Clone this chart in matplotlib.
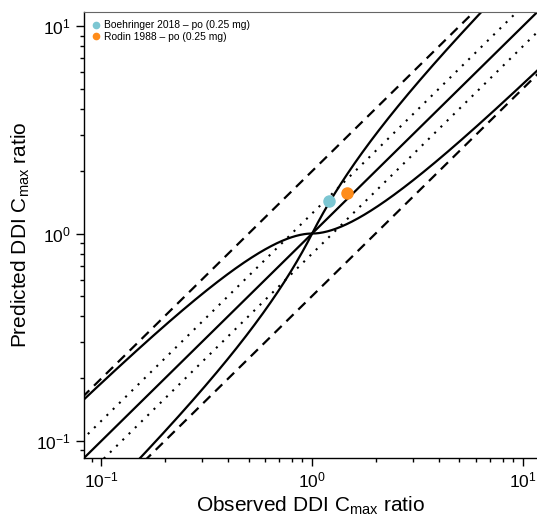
import numpy as np
import matplotlib
matplotlib.use('Agg')
import matplotlib.pyplot as plt
from matplotlib.lines import Line2D

plt.rcParams['font.family'] = ['Liberation Sans', 'DejaVu Sans']
plt.rcParams['mathtext.fontset'] = 'custom'
plt.rcParams['mathtext.rm'] = 'Liberation Sans'
plt.rcParams['mathtext.it'] = 'Liberation Sans:italic'
plt.rcParams['mathtext.bf'] = 'Liberation Sans:bold'

# observed vs predicted DDI Cmax ratios
studies = ['Boehringer 2018 \u2013 po (0.25 mg)', 'Rodin 1988 \u2013 po (0.25 mg)']
observed = [1.20, 1.46]
predicted = [1.44, 1.56]
colors = ['#7cc6d2', '#ff8c1a']

# reference line factors
dashed_factors = [2.0, 0.5]
dotted_factors = [1.25, 0.8]
guest_delta = 1.0

axis_limits = [0.083, 11.7]

fig = plt.figure(figsize=(5.37, 5.19), dpi=100)
ax = fig.add_axes([84.3 / 537, 1 - 457.7 / 519, 453 / 537, 445.7 / 519])

x = np.logspace(-1.5, 1.5, 600)

# Guest limits
r = np.where(x >= 1, x, 1 / x)
limit = (guest_delta + 2 * (r - 1)) / r
ax.plot(x, x * limit, color='black', lw=1.6)
ax.plot(x, x / limit, color='black', lw=1.6)
ax.plot(x, x, color='black', lw=1.6)

for f in dotted_factors:
    ax.plot(x, f * x, color='black', lw=1.5, linestyle=(0, (1, 3.2)))
for f in dashed_factors:
    ax.plot(x, f * x, color='black', lw=1.6, linestyle=(0, (4.5, 3)))

for name, ox, py, c in zip(studies, observed, predicted, colors):
    ax.plot(ox, py, 'o', color=c, markersize=8, label=name, zorder=5)

ax.set_xscale('log')
ax.set_yscale('log')
ax.set_xlim(axis_limits)
ax.set_ylim(axis_limits)

ax.set_xlabel('Observed DDI C$_{\\mathrm{max}}$ ratio', fontsize=15, labelpad=3)
ax.set_ylabel('Predicted DDI C$_{\\mathrm{max}}$ ratio', fontsize=15, labelpad=3)

ax.tick_params(which='major', length=6, width=1, labelsize=12.5, direction='out')
ax.tick_params(which='minor', length=3, width=1, direction='out')

for s in ['left', 'bottom']:
    ax.spines[s].set_color('black')
    ax.spines[s].set_linewidth(1)
ax.spines['top'].set_color('#666666')
ax.spines['right'].set_visible(False)

handles = [Line2D([], [], marker='o', linestyle='', color=c, markersize=4.5) for c in colors]
ax.legend(handles, studies, loc='upper left', bbox_to_anchor=(0.0, 0.995), frameon=False,
          fontsize=7.4, handletextpad=0.2, handlelength=1.1, labelspacing=0.15,
          borderaxespad=0.3, borderpad=0.3)

fig.savefig('out.png', dpi=100)
